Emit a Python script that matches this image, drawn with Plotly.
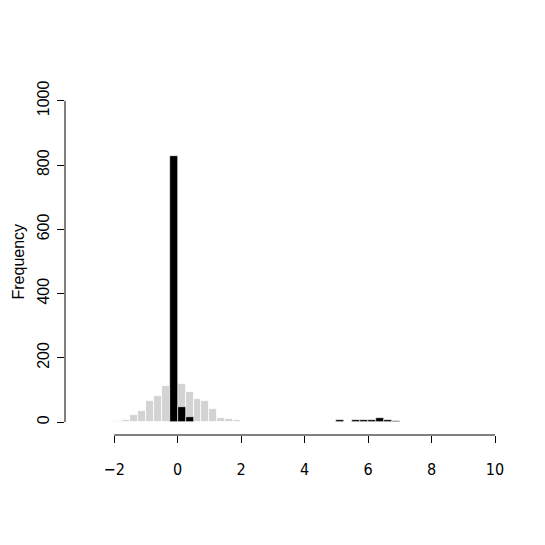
import plotly.graph_objects as go

# histogram bins are 0.25 wide
bin_width = 0.25

# grey histogram (left edges of bins, counts)
grey_left = [-2.0, -1.75, -1.5, -1.25, -1.0, -0.75, -0.5, -0.25,
             0.0, 0.25, 0.5, 0.75, 1.0, 1.25, 1.5, 1.75]
grey_counts = [4, 7, 21, 35, 66, 81, 113, 120,
               118, 94, 72, 66, 41, 14, 9, 7]

# black histogram drawn on top
black_left = [-0.25, 0.0, 0.25, 5.0, 5.25, 5.5, 5.75, 6.0, 6.25, 6.5, 6.75, 7.25]
black_counts = [828, 46, 16, 8, 2, 7, 7, 8, 12, 8, 4, 1]

x_ticks = [-2, 0, 2, 4, 6, 8, 10]
y_ticks = [0, 200, 400, 600, 800, 1000]

fig = go.Figure()
fig.add_trace(go.Bar(x=[v + bin_width / 2 for v in grey_left], y=grey_counts,
                     width=bin_width, marker=dict(color="#d3d3d3", line=dict(color="white", width=0.8))))
fig.add_trace(go.Bar(x=[v + bin_width / 2 for v in black_left], y=black_counts,
                     width=bin_width, marker=dict(color="black", line=dict(color="white", width=0.6))))

# R style axis lines: only span first to last tick
fig.add_shape(type="line", xref="x", yref="paper", x0=x_ticks[0], x1=x_ticks[-1], y0=0, y1=0,
              line=dict(color="black", width=1))
fig.add_shape(type="line", xref="paper", yref="y", x0=0, x1=0, y0=y_ticks[0], y1=y_ticks[-1],
              line=dict(color="black", width=1))

# y axis title as an annotation so it can sit far left like in R
fig.add_annotation(text="Frequency", xref="paper", yref="paper", x=0, y=0.5,
                   xanchor="center", yanchor="middle", xshift=-47, textangle=-90,
                   showarrow=False, font=dict(size=16))

# page body has an 8px margin, so the figure is a bit smaller than the window
fig.update_layout(
    width=537, height=537,
    margin=dict(l=57, r=30, t=80, b=110),
    paper_bgcolor="white", plot_bgcolor="white",
    barmode="overlay", bargap=0, showlegend=False,
    font=dict(family="Liberation Sans, Arial, sans-serif", color="black"),
)
fig.update_xaxes(range=[-3.55, 10.63], tickvals=x_ticks, ticks="outside", ticklen=7,
                 tickcolor="black", showgrid=False, zeroline=False, showline=False,
                 automargin=False,
                 tickfont=dict(family="Liberation Sans Narrow, DejaVu Sans Condensed, Liberation Sans", size=16),
                 ticklabelstandoff=13)
fig.update_yaxes(range=[-40, 1040], tickvals=y_ticks, ticks="outside", ticklen=7,
                 tickcolor="black", showgrid=False, zeroline=False, showline=False,
                 automargin=False,
                 tickangle=-90, tickfont=dict(size=16), ticklabelstandoff=2)

fig.write_html("out.html")
